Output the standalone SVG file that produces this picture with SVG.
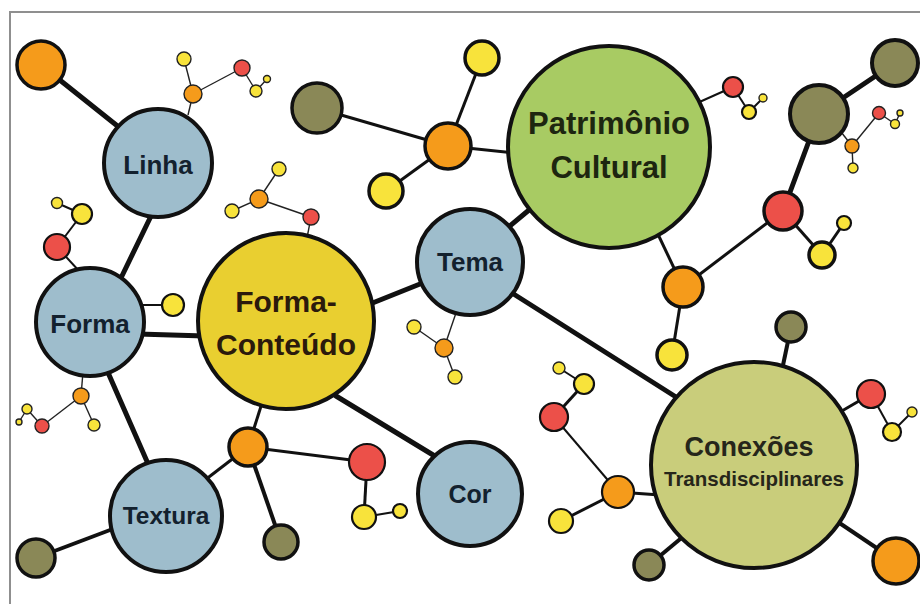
<svg xmlns="http://www.w3.org/2000/svg" width="920" height="604" viewBox="0 0 920 604">
<style>
.frame{fill:none;stroke:#8f8f8f;stroke-width:2}
.c5{stroke:#111;stroke-width:5;stroke-linecap:round}
.c4{stroke:#111;stroke-width:4}
.c3{stroke:#111;stroke-width:3}
.c2{stroke:#111;stroke-width:2}
.c1{stroke:#222;stroke-width:1.4}
.main{stroke:#111;stroke-width:4}
.med{stroke:#111;stroke-width:3.5}
.sm{stroke:#111;stroke-width:2.2}
.xs{stroke:#222;stroke-width:1.4}
.blue{fill:#9ebdcc}.fcy{fill:#e9cf30}.grn{fill:#a8cb63}.cnx{fill:#c9cd7b}
.or{fill:#f59b1b}.rd{fill:#ec5049}.yl{fill:#f8e33b}.ol{fill:#8a8857}
.lbl{font-family:"Liberation Sans",Arial,sans-serif;font-weight:bold;text-anchor:middle;fill:#13212e}
</style>
<rect x="0" y="0" width="920" height="604" fill="#fff"/>
<path class="frame" d="M10,604 V12 H920"/>
<g id="connectors">
<!-- main thick -->
<line class="c5" x1="41" y1="65" x2="135" y2="140"/>
<line class="c5" x1="120" y1="280" x2="152" y2="214"/>
<line class="c5" x1="138" y1="334" x2="205" y2="336"/>
<line class="c5" x1="106" y1="368" x2="149" y2="466"/>
<line class="c5" x1="370" y1="304" x2="425" y2="282"/>
<line class="c5" x1="505" y1="230" x2="535" y2="205"/>
<line class="c5" x1="512" y1="293" x2="676" y2="397"/>
<line class="c5" x1="336" y1="396" x2="438" y2="458"/>
<line class="c5" x1="819" y1="114" x2="895" y2="63"/>
<line class="c5" x1="819" y1="114" x2="783" y2="211"/>
<!-- medium -->
<line class="c4" x1="36" y1="558" x2="118" y2="527"/>
<line class="c3" x1="263" y1="400" x2="248" y2="447"/>
<line class="c3" x1="248" y1="447" x2="205" y2="480"/>
<line class="c4" x1="248" y1="447" x2="281" y2="542"/>
<line class="c3" x1="248" y1="447" x2="367" y2="462"/>
<line class="c3" x1="367" y1="462" x2="364" y2="517"/>
<line class="c2" x1="364" y1="517" x2="400" y2="511"/>
<line class="c3" x1="317" y1="108" x2="448" y2="146"/>
<line class="c3" x1="448" y1="146" x2="482" y2="58"/>
<line class="c3" x1="448" y1="146" x2="386" y2="191"/>
<line class="c3" x1="448" y1="146" x2="515" y2="153"/>
<line class="c2" x1="695" y1="104" x2="733" y2="87"/>
<line class="c2" x1="733" y1="87" x2="749" y2="112"/>
<line class="c2" x1="749" y1="112" x2="763" y2="98"/>
<line class="c3" x1="783" y1="211" x2="822" y2="255"/>
<line class="c3" x1="822" y1="255" x2="844" y2="223"/>
<line class="c3" x1="783" y1="211" x2="683" y2="287"/>
<line class="c3" x1="655" y1="228" x2="683" y2="287"/>
<line class="c3" x1="683" y1="287" x2="672" y2="355"/>
<line class="c1" x1="838" y1="128" x2="852" y2="146"/>
<line class="c1" x1="852" y1="146" x2="853" y2="168"/>
<line class="c1" x1="852" y1="146" x2="879" y2="113"/>
<line class="c1" x1="879" y1="113" x2="895" y2="124"/>
<line class="c1" x1="895" y1="124" x2="900" y2="113"/>
<line class="c4" x1="791" y1="327" x2="782" y2="370"/>
<line class="c3" x1="835" y1="415" x2="871" y2="394"/>
<line class="c2" x1="871" y1="394" x2="892" y2="432"/>
<line class="c2" x1="892" y1="432" x2="912" y2="412"/>
<line class="c4" x1="835" y1="520" x2="896" y2="561"/>
<line class="c4" x1="685" y1="535" x2="649" y2="565"/>
<line class="c3" x1="618" y1="492" x2="660" y2="495"/>
<line class="c2" x1="618" y1="492" x2="554" y2="417"/>
<line class="c3" x1="618" y1="492" x2="561" y2="521"/>
<line class="c3" x1="554" y1="417" x2="584" y2="384"/>
<line class="c2" x1="584" y1="384" x2="559" y2="368"/>
<!-- small clusters -->
<line class="c1" x1="188" y1="115" x2="193" y2="94"/>
<line class="c1" x1="193" y1="94" x2="184" y2="59"/>
<line class="c1" x1="193" y1="94" x2="242" y2="68"/>
<line class="c1" x1="242" y1="68" x2="256" y2="91"/>
<line class="c1" x1="256" y1="91" x2="267" y2="79"/>
<line class="c2" x1="80" y1="272" x2="57" y2="247"/>
<line class="c2" x1="57" y1="247" x2="82" y2="214"/>
<line class="c2" x1="82" y1="214" x2="57" y2="203"/>
<line class="c2" x1="135" y1="305" x2="173" y2="305"/>
<line class="c1" x1="83" y1="372" x2="81" y2="396"/>
<line class="c1" x1="81" y1="396" x2="94" y2="425"/>
<line class="c1" x1="81" y1="396" x2="42" y2="426"/>
<line class="c1" x1="42" y1="426" x2="27" y2="409"/>
<line class="c1" x1="27" y1="409" x2="19" y2="422"/>
<line class="c1" x1="307" y1="238" x2="311" y2="217"/>
<line class="c1" x1="311" y1="217" x2="259" y2="199"/>
<line class="c1" x1="259" y1="199" x2="279" y2="169"/>
<line class="c1" x1="259" y1="199" x2="232" y2="211"/>
<line class="c1" x1="457" y1="310" x2="444" y2="348"/>
<line class="c1" x1="444" y1="348" x2="414" y2="327"/>
<line class="c1" x1="444" y1="348" x2="455" y2="377"/>
</g>
<g id="satellites">
<g id="s1"><circle class="med or" cx="41" cy="65" r="24"/></g>
<g id="s2"><circle class="med ol" cx="36" cy="558" r="19"/></g>
<g id="s3"><circle class="med or" cx="248" cy="447" r="19"/></g>
<g id="s4"><circle class="med ol" cx="281" cy="542" r="17"/></g>
<g id="s5"><circle class="sm rd" cx="367" cy="462" r="18"/></g>
<g id="s6"><circle class="sm yl" cx="364" cy="517" r="12"/></g>
<g id="s7"><circle class="sm yl" cx="400" cy="511" r="7"/></g>
<g id="s8"><circle class="med ol" cx="317" cy="108" r="25"/></g>
<g id="s9"><circle class="med or" cx="448" cy="146" r="23"/></g>
<g id="s10"><circle class="med yl" cx="482" cy="58" r="17"/></g>
<g id="s11"><circle class="med yl" cx="386" cy="191" r="17"/></g>
<g id="s12"><circle class="sm rd" cx="733" cy="87" r="10"/></g>
<g id="s13"><circle class="sm yl" cx="749" cy="112" r="7"/></g>
<g id="s14"><circle class="xs yl" cx="763" cy="98" r="4"/></g>
<g id="s15"><circle class="main ol" cx="819" cy="114" r="29"/></g>
<g id="s16"><circle class="main ol" cx="895" cy="63" r="23"/></g>
<g id="s17"><circle class="med rd" cx="783" cy="211" r="19"/></g>
<g id="s18"><circle class="med yl" cx="822" cy="255" r="13"/></g>
<g id="s19"><circle class="sm yl" cx="844" cy="223" r="7"/></g>
<g id="s20"><circle class="med or" cx="683" cy="287" r="20"/></g>
<g id="s21"><circle class="med yl" cx="672" cy="355" r="15"/></g>
<g id="s22"><circle class="xs or" cx="852" cy="146" r="7"/></g>
<g id="s23"><circle class="xs yl" cx="853" cy="168" r="5"/></g>
<g id="s24"><circle class="xs rd" cx="879" cy="113" r="6.5"/></g>
<g id="s25"><circle class="xs yl" cx="895" cy="124" r="4.5"/></g>
<g id="s26"><circle class="xs yl" cx="900" cy="113" r="3"/></g>
<g id="s27"><circle class="med ol" cx="791" cy="327" r="15"/></g>
<g id="s28"><circle class="sm rd" cx="871" cy="394" r="14"/></g>
<g id="s29"><circle class="sm yl" cx="892" cy="432" r="9"/></g>
<g id="s30"><circle class="xs yl" cx="912" cy="412" r="5"/></g>
<g id="s31"><circle class="med or" cx="896" cy="561" r="23"/></g>
<g id="s32"><circle class="med ol" cx="649" cy="565" r="15"/></g>
<g id="s33"><circle class="sm or" cx="618" cy="492" r="16"/></g>
<g id="s34"><circle class="sm rd" cx="554" cy="417" r="14"/></g>
<g id="s35"><circle class="sm yl" cx="584" cy="384" r="10"/></g>
<g id="s36"><circle class="xs yl" cx="559" cy="368" r="6"/></g>
<g id="s37"><circle class="sm yl" cx="561" cy="521" r="12"/></g>
<g id="s38"><circle class="xs or" cx="193" cy="94" r="9"/></g>
<g id="s39"><circle class="xs yl" cx="184" cy="59" r="7"/></g>
<g id="s40"><circle class="xs rd" cx="242" cy="68" r="8"/></g>
<g id="s41"><circle class="xs yl" cx="256" cy="91" r="6"/></g>
<g id="s42"><circle class="xs yl" cx="267" cy="79" r="3.5"/></g>
<g id="s43"><circle class="sm rd" cx="57" cy="247" r="13"/></g>
<g id="s44"><circle class="sm yl" cx="82" cy="214" r="10"/></g>
<g id="s45"><circle class="xs yl" cx="57" cy="203" r="5.5"/></g>
<g id="s46"><circle class="sm yl" cx="173" cy="305" r="11"/></g>
<g id="s47"><circle class="xs or" cx="81" cy="396" r="8"/></g>
<g id="s48"><circle class="xs yl" cx="94" cy="425" r="6"/></g>
<g id="s49"><circle class="xs rd" cx="42" cy="426" r="7"/></g>
<g id="s50"><circle class="xs yl" cx="27" cy="409" r="5"/></g>
<g id="s51"><circle class="xs yl" cx="19" cy="422" r="3"/></g>
<g id="s52"><circle class="xs or" cx="259" cy="199" r="9"/></g>
<g id="s53"><circle class="xs yl" cx="279" cy="169" r="7"/></g>
<g id="s54"><circle class="xs yl" cx="232" cy="211" r="7"/></g>
<g id="s55"><circle class="xs rd" cx="311" cy="217" r="8"/></g>
<g id="s56"><circle class="xs or" cx="444" cy="348" r="9"/></g>
<g id="s57"><circle class="xs yl" cx="414" cy="327" r="7"/></g>
<g id="s58"><circle class="xs yl" cx="455" cy="377" r="7"/></g>
</g>
<g id="linha"><circle class="main blue" cx="158" cy="163" r="54"/><text class="lbl" x="158" y="174" font-size="26">Linha</text></g>
<g id="forma"><circle class="main blue" cx="90" cy="322" r="54"/><text class="lbl" x="90" y="333" font-size="26">Forma</text></g>
<g id="textura"><circle class="main blue" cx="166" cy="516" r="56"/><text class="lbl" x="166" y="524" font-size="24.5">Textura</text></g>
<g id="forma-conteudo"><circle class="main fcy" cx="286" cy="321" r="88"/><text class="lbl" x="286" y="312" font-size="30" fill="#2b1a0c" style="fill:#2b1a0c">Forma-</text><text class="lbl" x="286" y="355" font-size="30" style="fill:#2b1a0c">Conteúdo</text></g>
<g id="tema"><circle class="main blue" cx="470" cy="262" r="53"/><text class="lbl" x="470" y="271" font-size="26">Tema</text></g>
<g id="cor"><circle class="main blue" cx="470" cy="494" r="52"/><text class="lbl" x="470" y="503" font-size="25">Cor</text></g>
<g id="patrimonio"><circle class="main grn" cx="609" cy="147" r="101"/><text class="lbl" x="609" y="134" font-size="31" style="fill:#1d2610">Patrimônio</text><text class="lbl" x="609" y="178" font-size="31" style="fill:#1d2610">Cultural</text></g>
<g id="conexoes"><circle class="main cnx" cx="754" cy="465" r="103"/><text class="lbl" x="749" y="456" font-size="27" style="fill:#26261a">Conexões</text><text class="lbl" x="754" y="486" font-size="20.5" style="fill:#26261a">Transdisciplinares</text></g>
</svg>
